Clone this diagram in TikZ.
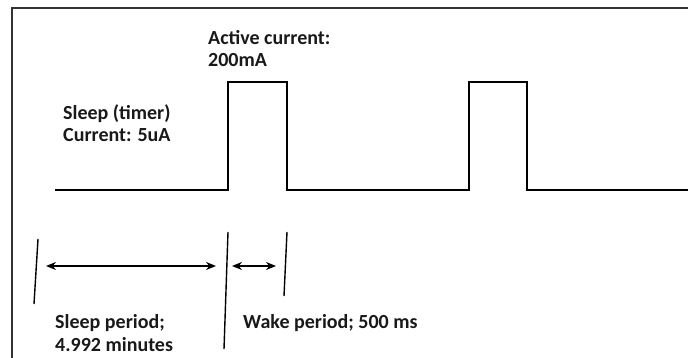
\documentclass[tikz,border=0pt]{standalone}
\usepackage{fontspec}
\setmainfont{Carlito}
\usetikzlibrary{arrows.meta}
\tikzset{
  wave/.style={line width=2.2pt, line join=miter},
  marker/.style={line width=1.4pt},
  span/.style={line width=1.4pt, {Stealth[length=10pt,width=8pt]}-{Stealth[length=10pt,width=8pt]}},
  txt/.style={font=\bfseries\fontsize{20}{22.5}\selectfont, text=black!90, align=left, inner sep=0pt, anchor=base west}
}
\begin{document}
\begin{tikzpicture}[x=1pt,y=-1pt]
\useasboundingbox (0,0) rectangle (688,358);
\draw[line width=1.5pt, black!80] (12,358) -- (12,8) -- (688,8);

% current trace
\draw[wave] (55,190) -- (228,190) -- (228,82) -- (287,82) -- (287,190)
  -- (469,190) -- (469,82) -- (527,82) -- (527,190) -- (688,190);

\node[txt] (active) at (208,67) {Active current:\\200mA};
\node[txt] (sleep) at (63,142) {Sleep (timer)\\Current: 5uA};

% period markers
\coordinate (m1t) at (38,239);
\coordinate (m1b) at (34,304);
\coordinate (m2t) at (228,232);
\coordinate (m2b) at (224,349);
\coordinate (m3t) at (287,232);
\coordinate (m3b) at (284,296);
\draw[marker] (m1t) -- (m1b);
\draw[marker] (m2t) -- (m2b);
\draw[marker] (m3t) -- (m3b);

\coordinate (s1) at (46,266);
\coordinate (s2) at (216,266);
\coordinate (w1) at (232,266);
\coordinate (w2) at (276,266);
\draw[span] (s1) -- (s2);
\draw[span] (w1) -- (w2);

\node[txt] (sleepper) at (55,351) {Sleep period;\\4.992 minutes};
\node[txt] (wakeper) at (243,328) {Wake period; 500 ms};
\end{tikzpicture}
\end{document}
